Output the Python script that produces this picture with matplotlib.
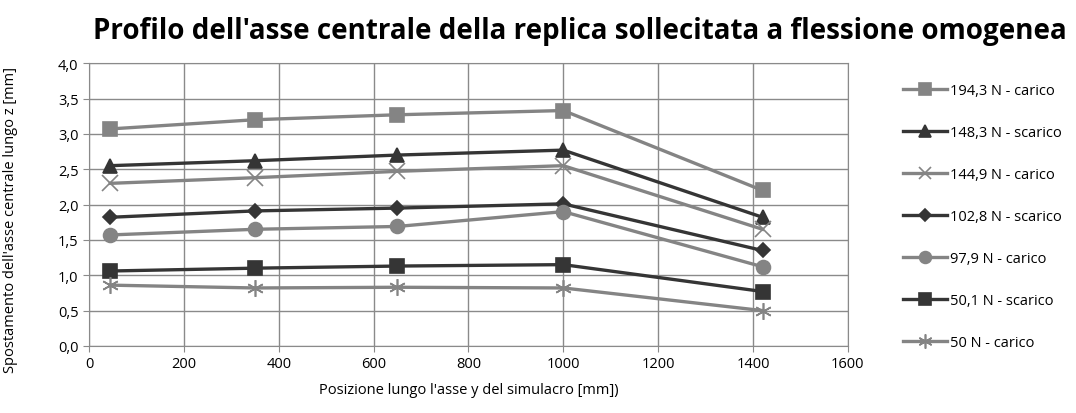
import numpy as np
import matplotlib.pyplot as plt

# -------------
# Data
# -------------
pos = [45, 350, 650, 1000, 1420]  # posizione lungo l'asse y [mm]

labels = ['194,3 N - carico', '148,3 N - scarico', '144,9 N - carico',
          '102,8 N - scarico', '97,9 N - carico', '50,1 N - scarico',
          '50 N - carico']

s194 = [3.07, 3.20, 3.27, 3.33, 2.20]
s148 = [2.55, 2.62, 2.70, 2.77, 1.82]
s145 = [2.30, 2.38, 2.47, 2.55, 1.65]
s103 = [1.82, 1.91, 1.95, 2.01, 1.35]
s98 = [1.57, 1.65, 1.69, 1.90, 1.12]
s50s = [1.06, 1.10, 1.13, 1.15, 0.77]
s50c = [0.86, 0.82, 0.83, 0.82, 0.50]

series = [s194, s148, s145, s103, s98, s50s, s50c]

light = '#848484'
dark = '#353535'
colors = [light, dark, light, dark, light, dark, light]
markers = ['s', '^', 'x', 'D', 'o', 's', (6, 2, 0)]
msizes = [10, 10, 11, 7.5, 10, 10, 12]

plt.rcParams['font.family'] = ['Open Sans', 'DejaVu Sans']

fig = plt.figure(figsize=(10.76, 4.14), dpi=100)
ax = fig.add_axes([0.0827, 0.162, 0.7053, 0.683])

for y, lab, c, m, ms in zip(series, labels, colors, markers, msizes):
    ax.plot(pos, y, color=c, marker=m, markersize=ms, linewidth=2.4,
            markeredgewidth=1.2, label=lab)

ax.set_xlim(0, 1600)
ax.set_ylim(0, 4.0)
ax.set_xticks(np.arange(0, 1601, 200))
ax.set_yticks(np.arange(0, 4.01, 0.5))
ax.set_yticklabels([('%.1f' % v).replace('.', ',') for v in np.arange(0, 4.01, 0.5)])
ax.grid(True, color='#8a8a8a', linewidth=1)
ax.set_axisbelow(True)
for sp in ax.spines.values():
    sp.set_color('#8a8a8a')
ax.tick_params(axis='both', length=4, color='#8a8a8a', labelsize=10.5)

ax.set_xlabel("Posizione lungo l'asse y del simulacro [mm])", fontsize=10.5, labelpad=8)
ax.set_ylabel("Spostamento dell'asse centrale lungo z [mm]", fontsize=10.5)
ax.yaxis.set_label_coords(-0.094, 0.45)
fig.text(0.539, 0.925, "Profilo dell'asse centrale della replica sollecitata a flessione omogenea",
         ha='center', va='center', fontsize=20, fontweight='bold')

ax.legend(loc='upper left', bbox_to_anchor=(1.065, 0.95), frameon=False,
          fontsize=10.5, labelspacing=1.85, handlelength=3.0, handletextpad=0.2,
          borderaxespad=0, markerscale=0.85)

fig.savefig('out.png', dpi=100)
